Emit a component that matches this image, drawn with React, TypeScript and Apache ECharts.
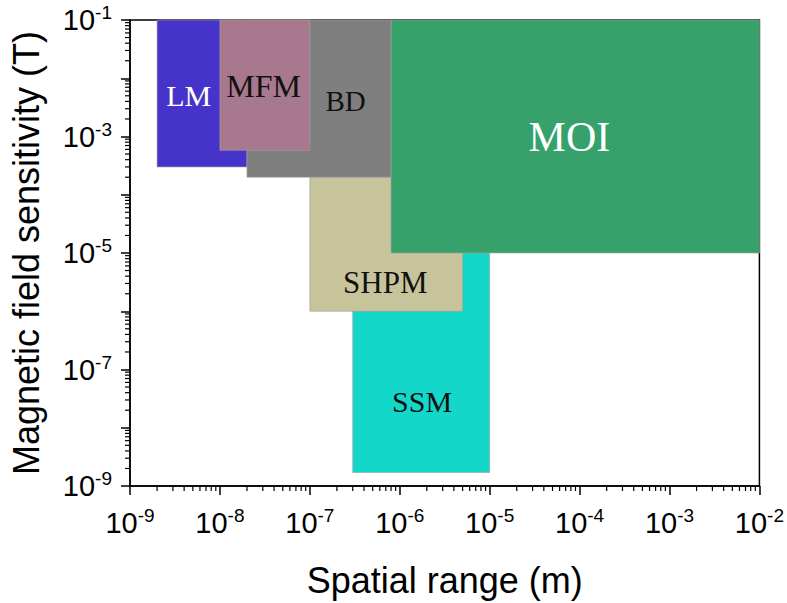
import React, { useEffect, useRef } from "react";
import * as echarts from "echarts";

// Techniques, in drawing order (later ones are drawn on top)
const methods = ["SSM", "SHPM", "MOI", "LM", "BD", "MFM"];
// Spatial range (m)
const xFrom = [3e-7, 1e-7, 8e-7, 2e-9, 2e-8, 1e-8];
const xTo = [1e-5, 5e-6, 1e-2, 2e-8, 8e-7, 1e-7];
// Magnetic field sensitivity (T)
const yFrom = [1.7e-9, 1e-6, 1e-5, 3e-4, 2e-4, 5.8e-4];
const yTo = [1e-5, 2e-4, 1e-1, 1e-1, 1e-1, 1e-1];
// Where each technique's name is written (data units)
const labelAtX = [1.77e-6, 6.9e-7, 7.7e-5, 4.5e-9, 2.5e-7, 3.06e-8];
const labelAtY = [2.8e-8, 3.1e-6, 1e-3, 5e-3, 4e-3, 7.5e-3];

// Axis exponents
const xExpMin = -9;
const xExpMax = -2;
const yExpMin = -9;
const yExpMax = -1;
const minorMultipliers = [2, 3, 4, 5, 6, 7, 8, 9];

const fills = ["#12d7c9", "#c7c49b", "#36a16a", "#4633c9", "#7f7f7f", "#a8788e"];
const labelColors = ["#111", "#111", "#fff", "#fff", "#111", "#111"];
const labelSizes = [30, 31, 42, 30, 29, 32];

const lg = (v: number) => Math.log10(v);

export default function App() {
  const ref = useRef<HTMLDivElement>(null);
  useEffect(() => {
    if (!ref.current) return;
    const chart = echarts.init(ref.current, null, { renderer: "svg" });

    const rectData = methods.map((_, i) => [lg(xFrom[i]), lg(yFrom[i]), lg(xTo[i]), lg(yTo[i]), i]);
    const labelData = methods.map((_, i) => [lg(labelAtX[i]), lg(labelAtY[i]), i]);

    const xMinor: number[][] = [];
    for (let n = xExpMin; n < xExpMax; n++) {
      minorMultipliers.forEach((k) => xMinor.push([lg(k * Math.pow(10, n)), yExpMin]));
    }
    const yMinor: number[][] = [];
    for (let n = yExpMin; n < yExpMax; n++) {
      minorMultipliers.forEach((k) => yMinor.push([xExpMin, lg(k * Math.pow(10, n))]));
    }

    const labelFont = "Liberation Sans";
    const tickRich = {
      b: { fontSize: 29, fontFamily: labelFont, color: "#000" },
      s: { fontSize: 19, fontFamily: labelFont, color: "#000", padding: [0, 0, 15, 0] },
    };

    chart.setOption({
      animation: false,
      grid: {
        left: 127,
        right: 24,
        top: 20,
        bottom: 114,
        show: true,
        borderColor: "#000",
        borderWidth: 1.5,
      },
      xAxis: {
        type: "value",
        min: xExpMin,
        max: xExpMax,
        interval: 1,
        splitLine: { show: false },
        axisLine: { lineStyle: { color: "#000", width: 1.5 } },
        axisTick: { length: 9, lineStyle: { color: "#000", width: 1.5 } },
        axisLabel: {
          margin: 20,
          formatter: (v: number) => `{b|10}{s|${v}}`,
          rich: tickRich,
        },
        name: "Spatial range (m)",
        nameLocation: "middle",
        nameGap: 76,
        nameTextStyle: { fontSize: 36, fontFamily: labelFont, color: "#000" },
      },
      yAxis: {
        type: "value",
        min: yExpMin,
        max: yExpMax,
        interval: 1,
        splitLine: { show: false },
        axisLine: { lineStyle: { color: "#000", width: 1.5 } },
        axisTick: { length: 9, lineStyle: { color: "#000", width: 1.5 } },
        axisLabel: {
          margin: 18,
          formatter: (v: number) => (Math.abs(v) % 2 === 1 ? `{b|10}{s|${v}}` : ""),
          rich: tickRich,
        },
        name: "Magnetic field sensitivity (T)",
        nameLocation: "middle",
        nameGap: 86,
        nameTextStyle: { fontSize: 36, fontFamily: labelFont, color: "#000" },
      },
      series: [
        {
          type: "custom",
          coordinateSystem: "cartesian2d",
          silent: true,
          clip: false,
          encode: { x: [0, 2], y: [1, 3] },
          data: rectData,
          renderItem: (_p: any, api: any) => {
            const i = api.value(4);
            const a = api.coord([api.value(0), api.value(3)]);
            const b = api.coord([api.value(2), api.value(1)]);
            return {
              type: "rect",
              shape: { x: a[0], y: a[1], width: b[0] - a[0], height: b[1] - a[1] },
              style: { fill: fills[i], stroke: "rgba(160,160,160,0.8)", lineWidth: 0.8 },
            };
          },
        },
        {
          type: "custom",
          coordinateSystem: "cartesian2d",
          silent: true,
          clip: false,
          z: 5,
          encode: { x: 0, y: 1 },
          data: labelData,
          renderItem: (_p: any, api: any) => {
            const i = api.value(2);
            const c = api.coord([api.value(0), api.value(1)]);
            return {
              type: "text",
              x: c[0],
              y: c[1],
              style: {
                text: methods[i],
                fill: labelColors[i],
                fontSize: labelSizes[i],
                fontFamily: "Liberation Serif",
                align: "center",
                verticalAlign: "middle",
              },
            };
          },
        },
        {
          type: "custom",
          coordinateSystem: "cartesian2d",
          silent: true,
          clip: false,
          z: 6,
          encode: { x: 0, y: 1 },
          data: xMinor,
          renderItem: (_p: any, api: any) => {
            const c = api.coord([api.value(0), api.value(1)]);
            return {
              type: "line",
              shape: { x1: c[0], y1: c[1], x2: c[0], y2: c[1] + 5 },
              style: { stroke: "#000", lineWidth: 1.2 },
            };
          },
        },
        {
          type: "custom",
          coordinateSystem: "cartesian2d",
          silent: true,
          clip: false,
          z: 6,
          encode: { x: 0, y: 1 },
          data: yMinor,
          renderItem: (_p: any, api: any) => {
            const c = api.coord([api.value(0), api.value(1)]);
            return {
              type: "line",
              shape: { x1: c[0] - 5, y1: c[1], x2: c[0], y2: c[1] },
              style: { stroke: "#000", lineWidth: 1.2 },
            };
          },
        },
      ],
    });
    return () => chart.dispose();
  }, []);
  return (
    <div
      ref={ref}
      style={{ position: "fixed", left: 0, top: 0, width: 787, height: 603, background: "#fff" }}
    />
  );
}
